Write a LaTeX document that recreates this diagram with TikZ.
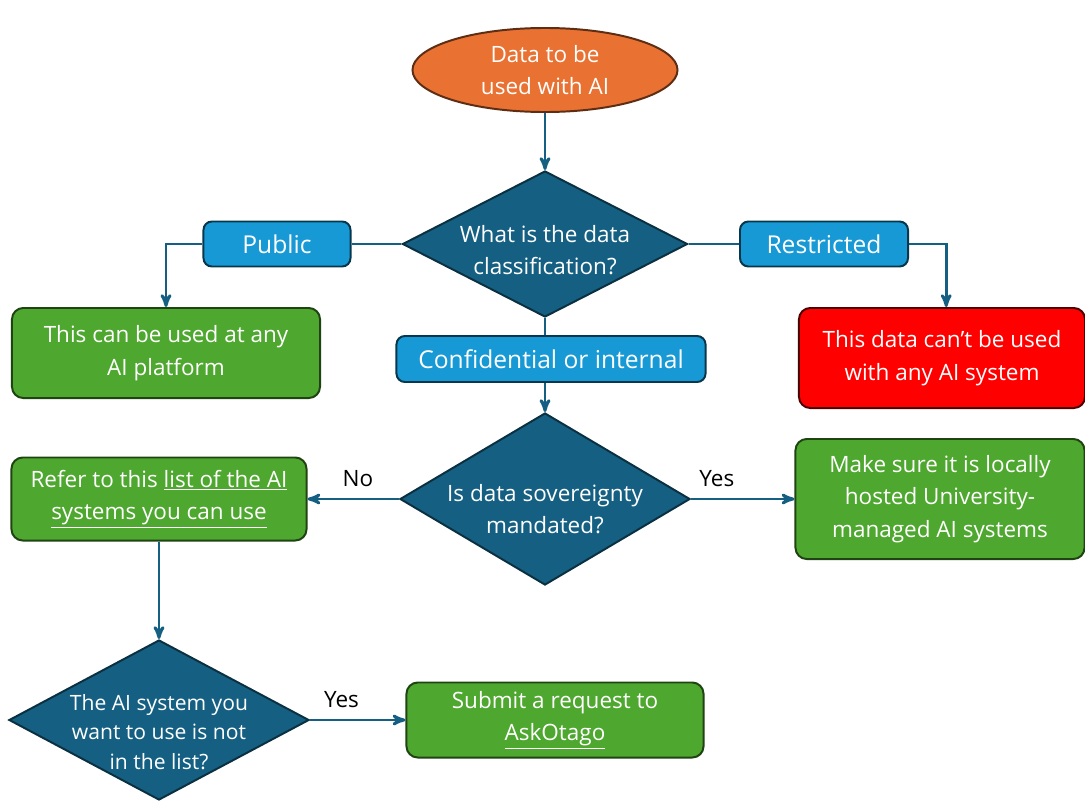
\documentclass[tikz,border=0pt]{standalone}
\usepackage{fontspec}
\setmainfont{Open Sans}
\usepackage{xcolor}
\usetikzlibrary{
    shapes.geometric,
    arrows,
    positioning
}
\definecolor{accorange}{HTML}{E97132}
\definecolor{accblue}{HTML}{156082}
\definecolor{acclblue}{HTML}{1799D5}
\definecolor{accgreen}{HTML}{4EA72E}
\definecolor{accred}{HTML}{FF0000}

\begin{document}
\begin{tikzpicture}[x=0.025cm,y=-0.025cm,>=stealth',line width=2pt]
    \tikzstyle{every node}=[font=\fontsize{16}{23}\selectfont, text=white, align=center, inner sep=0pt]
    \tikzstyle{box}=[rectangle, rounded corners=8pt, line width=1.4pt]
    \tikzstyle{action}=[box, fill=accgreen, draw=accgreen!40!black]
    \tikzstyle{stop}=[box, fill=accred, draw=accred!30!black]
    \tikzstyle{tag}=[box, fill=acclblue, draw=acclblue!35!black, rounded corners=6pt, font=\fontsize{17.5}{23}\selectfont]
    \tikzstyle{decision}=[diamond, fill=accblue, draw=accblue!50!black, line width=1.4pt]
    \tikzstyle{flow}=[->, draw=accblue, line width=2pt]
    \tikzstyle{answer}=[text=black]
    \useasboundingbox (0,0) rectangle (1085,803);

	\node [ellipse, fill=accorange, draw=accorange!40!black, line width=1.4pt, minimum width=6.625cm, minimum height=2.1cm] (start) at (545,70) {Data to be\\ used with AI};
	\node [decision, minimum width=7.125cm, minimum height=3.65cm, label={[yshift=-0.15cm]center:What is the data\\ classification?}] (q1) at (545,244) {};
	\node [tag, minimum width=3.675cm, minimum height=1.125cm] (public) at (277,244) {Public};
	\node [tag, minimum width=4.2cm, minimum height=1.125cm] (restricted) at (824,244) {Restricted};
	\node [tag, minimum width=7.725cm, minimum height=1.15cm] (conf) at (551,359) {Confidential or internal};
	\node [action, minimum width=7.7cm, minimum height=2.25cm] (anyplat) at (166,353) {This can be used at any\\ AI platform};
	\node [stop, minimum width=7.15cm, minimum height=2.5cm] (noai) at (942,358) {This data can’t be used\\ with any AI system};

	\node [decision, minimum width=7.25cm, minimum height=4.3cm, label={[yshift=-0.25cm]center:Is data sovereignty\\ mandated?}] (q2) at (545,499) {};
	\node [action, minimum width=7.375cm, minimum height=2.075cm] (aslist) at (159,499) {Refer to this \underline{list of the AI}\\ \underline{systems you can use}};
	\node [action, minimum width=7.225cm, minimum height=3cm] (local) at (940,499) {Make sure it is locally\\ hosted University-\\ managed AI systems};

	\node [decision, minimum width=7.5cm, minimum height=4cm, label={[yshift=-0.3cm, font=\fontsize{15}{21}\selectfont]center:The AI system you\\ want to use is not\\ in the list?}] (q3) at (159,720) {};
	\node [action, minimum width=7.425cm, minimum height=1.875cm] (submit) at (555,720) {Submit a request to\\ \underline{AskOtago}};

	\draw [flow] (start) -- (q1);
	\draw [flow, -] (q1) -- (public);
	\draw [flow] (public.west) -| (anyplat.north);
	\draw [flow, -] (q1) -- (restricted);
	\draw [flow] (restricted.east) -| ([xshift=3]noai.north);
	\draw [flow, -] (q1.south) -- (q1.south |- conf.north);
	\draw [flow] (q1.south |- conf.south) -- (q2.north);
	\draw [flow] (q2) -- (aslist) node [answer, pos=0.45, above=8pt] (lblno) {No};
	\draw [flow] (q2) -- (local) node [answer, pos=0.25, above=8pt] (lblyes) {Yes};
	\draw [flow] (aslist) -- (q3);
	\draw [flow] (q3) -- (submit) node [answer, pos=0.33, above=8pt] (lblsub) {Yes};
\end{tikzpicture}
\end{document}
